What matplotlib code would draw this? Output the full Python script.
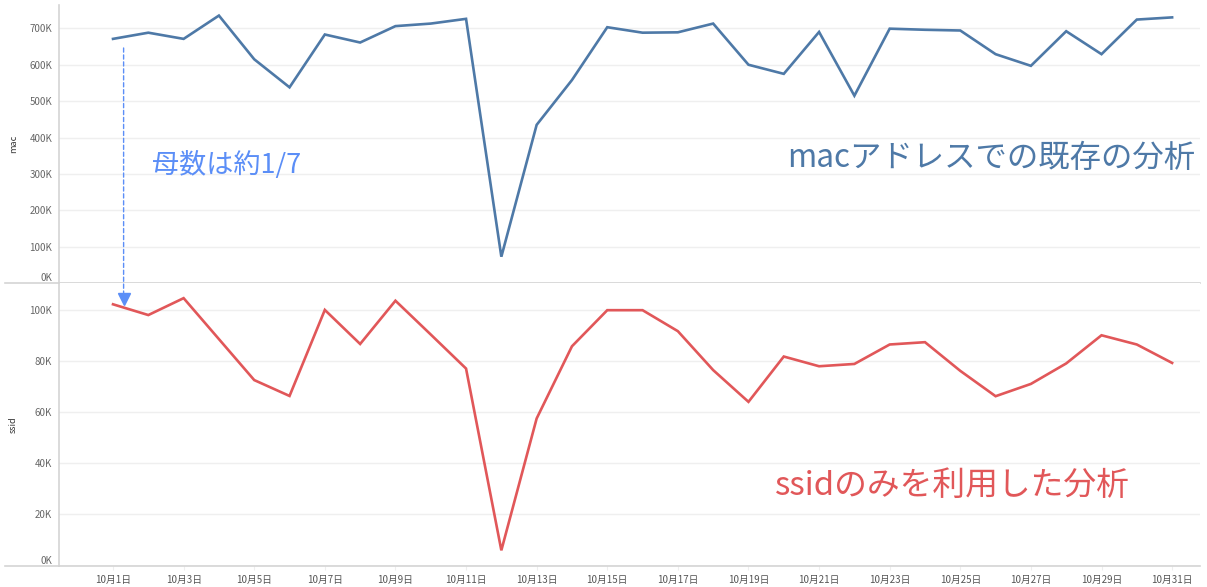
import matplotlib
matplotlib.use("Agg")
import matplotlib.pyplot as plt
from matplotlib.ticker import FuncFormatter
from matplotlib.patches import ConnectionPatch
from matplotlib.lines import Line2D

plt.rcParams['font.family'] = ['Noto Sans CJK JP', 'DejaVu Sans']

days = list(range(1, 32))
mac = [671, 688, 671, 735, 615, 538, 683, 661, 706, 713, 726, 73, 435, 558, 703,
       688, 689, 713, 600, 575, 690, 515, 699, 696, 694, 629, 597, 692, 629, 724, 730]
mac = [v * 1000 for v in mac]
ssid = [102.1, 97.9, 104.5, 88.5, 72.5, 66.3, 99.9, 86.6, 103.5, 90.3, 77.0, 6.0, 57.5,
        85.7, 99.8, 99.8, 91.6, 76.4, 64.0, 81.7, 77.9, 78.8, 86.4, 87.3, 76.1, 66.2,
        71.0, 79.0, 90.0, 86.4, 79.2]
ssid = [v * 1000 for v in ssid]
tick_days = list(range(1, 32, 2))
tick_labels = [f"10月{d}日" for d in tick_days]

blue = '#4e79a7'
red = '#e15759'
note_blue = '#5b8ef7'
grid_c = '#efefef'
axis_c = '#d4d4d4'

W, H = 1207, 587
fig = plt.figure(figsize=(W / 100, H / 100), dpi=100)
left = 59 / W
right = 1200 / W
ax_top = fig.add_axes([left, 1 - 283.3 / H, right - left, (283.3 - 5) / H])
ax_bot = fig.add_axes([left, 1 - 565.7 / H, right - left, (565.7 - 283.3) / H], sharex=ax_top)

kfmt = FuncFormatter(lambda v, p: f"{int(round(v / 1000))}K")

for ax in (ax_top, ax_bot):
    for s in ('top', 'right'):
        ax.spines[s].set_visible(False)
    ax.spines['left'].set_color(axis_c)
    ax.spines['bottom'].set_color(axis_c)
    ax.spines['left'].set_linewidth(1.2)
    ax.spines['bottom'].set_linewidth(1.2)
    ax.yaxis.set_major_formatter(kfmt)
    ax.grid(axis='y', color=grid_c, linewidth=1)
    ax.set_axisbelow(True)
    ax.tick_params(axis='y', length=0, labelsize=7, labelcolor='#666666', pad=5)
    ax.tick_params(axis='x', length=3, color='#eeeeee', labelsize=7, labelcolor='#555555')

ax_top.plot(days, mac, color=blue, lw=1.9, solid_joinstyle='miter')
ax_bot.plot(days, ssid, color=red, lw=1.9, solid_joinstyle='miter')

ax_top.set_ylim(0, 764000)
ax_top.set_yticks(range(0, 700001, 100000))
ax_bot.set_ylim(0, 110300)
ax_bot.set_yticks(range(0, 100001, 20000))
ax_top.set_xlim(-0.53, 31.79)
ax_bot.set_xticks(tick_days)
ax_bot.set_xticklabels(tick_labels)
ax_top.tick_params(axis='x', labelbottom=False, length=0)

# 0K label sits just above the base line
for ax in (ax_top, ax_bot):
    ax.yaxis.get_major_ticks()[0].label1.set_verticalalignment('bottom')

ax_top.set_ylabel('mac', fontsize=6.5, color='#333333')
ax_bot.set_ylabel('ssid', fontsize=6.5, color='#333333')
ax_top.yaxis.set_label_coords(-0.036, 0.5)
ax_bot.yaxis.set_label_coords(-0.036, 0.5)

# separator lines extend to the left edge
for y in (283.3, 565.7):
    fig.add_artist(Line2D([5 / W, left], [1 - y / H, 1 - y / H], color=axis_c, lw=1.2))

# dashed arrow from top panel to bottom panel
con = ConnectionPatch(xyA=(1.3, 646000), coordsA=ax_top.transData,
                      xyB=(1.3, 106500), coordsB=ax_bot.transData,
                      color=note_blue, linestyle=(0, (3, 2)), lw=1)
fig.add_artist(con)
ax_bot.plot([1.3], [104300], marker='v', color=note_blue, ms=8, clip_on=False)

ax_top.text(2.1, 325000, '母数は約1/7', color=note_blue, fontsize=19.5, va='center')
ax_top.text(31.65, 345000, 'macアドレスでの既存の分析', color=blue, fontsize=22.6,
            va='center', ha='right')
ax_bot.text(19.75, 31000, 'ssidのみを利用した分析', color=red, fontsize=23.6,
            va='center', ha='left')

fig.savefig('out.png', dpi=100)
